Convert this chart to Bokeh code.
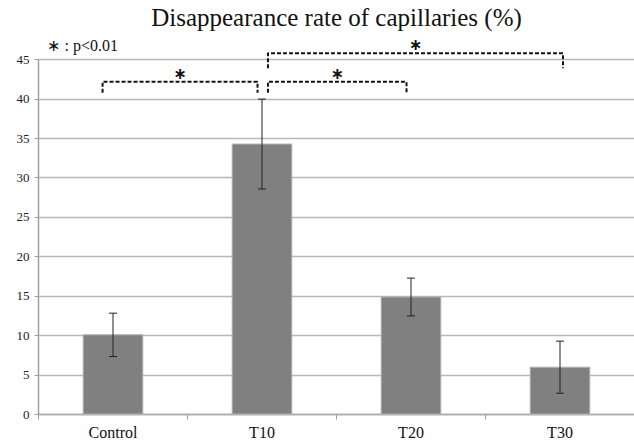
from bokeh.plotting import figure
from bokeh.models import (ColumnDataSource, Range1d, FixedTicker, Whisker, TeeHead, Label)
from bokeh.core.properties import value
from bokeh.embed import file_html
from bokeh.resources import INLINE

# ---- data ----
categories = ["Control", "T10", "T20", "T30"]
means = [10.1, 34.3, 14.9, 6.0]
errors = [2.75, 5.7, 2.4, 3.3]
y_ticks = [0, 5, 10, 15, 20, 25, 30, 35, 40, 45]

# significance brackets: pairs of category indices, bar top level, foot level
bracket_pairs = [(0, 1), (1, 2), (1, 3)]
bracket_tops = [42.2, 42.2, 45.8]
bracket_feet = [40.8, 40.8, 43.9]
bracket_label = "∗"
legend_text = "∗ : p<0.01"
title_text = "Disappearance rate of capillaries (%)"

# ---- styles ----
SERIF = "Liberation Serif"
GRID = "#b8b8b8"
# horizontal offsets of bracket ends relative to category centres (style only)
bracket_offsets = [(-0.07, -0.03), (0.04, -0.03), (0.04, 0.02)]

xc = [i + 0.5 for i in range(len(categories))]
src = ColumnDataSource(dict(
    x=xc, cat=categories, mean=means,
    upper=[m + e for m, e in zip(means, errors)],
    lower=[m - e for m, e in zip(means, errors)],
))

p = figure(width=634, height=443, output_backend="svg", toolbar_location=None,
           x_range=Range1d(0, len(categories)), y_range=Range1d(0, 48.7),
           min_border_left=38, min_border_right=0, min_border_top=30,
           min_border_bottom=10, title=title_text)
p.title.text_font = SERIF
p.title.text_font_size = "25px"
p.title.text_font_style = "normal"
p.title.align = "center"
p.title.text_color = "#111111"
p.title.standoff = 0
p.outline_line_color = None
p.background_fill_color = "white"

# bars
p.vbar(x="x", top="mean", width=0.4, bottom=0, source=src,
       fill_color="#808080", line_color="#b0b0b0", line_width=1)

# error bars
w = Whisker(base="x", upper="upper", lower="lower", source=src, level="overlay",
            line_color="#222222", line_width=1,
            upper_head=TeeHead(size=8, line_color="#222222", line_width=1),
            lower_head=TeeHead(size=8, line_color="#222222", line_width=1))
p.add_layout(w)

# significance brackets
bx, by, sx, sy = [], [], [], []
for (a, b), top, foot, (oa, ob) in zip(bracket_pairs, bracket_tops, bracket_feet, bracket_offsets):
    x0 = xc[a] + oa
    x1 = xc[b] + ob
    bx.append([x0, x0, x1, x1])
    by.append([foot, top, top, foot])
    sx.append((x0 + x1) / 2)
    sy.append(top + 1.1)
p.multi_line(xs=bx, ys=by, line_color="#111111", line_width=2, line_dash="4 2")
p.text(x=sx, y=sy, text=[bracket_label] * len(sx), text_font=value("DejaVu Sans"),
       text_font_size="16px", text_font_style="bold", text_align="center",
       text_baseline="middle", text_color="#111111")

# p-value legend
p.add_layout(Label(x=0.06, y=46.8, text=legend_text, text_font=SERIF,
                   text_font_size="16px", text_baseline="middle",
                   text_color="#111111"))

# x axis: labels at centres, ticks at category boundaries
p.xaxis.ticker = FixedTicker(ticks=xc, minor_ticks=list(range(len(categories) + 1)))
p.xaxis.major_label_overrides = {x: c for x, c in zip(xc, categories)}
p.xaxis.major_tick_line_color = None
p.xaxis.major_tick_out = 0
p.xaxis.minor_tick_line_color = "#a0a0a0"
p.xaxis.minor_tick_out = 5
p.xaxis.minor_tick_in = 0
p.xaxis.axis_line_color = "#b0b0b0"
p.xaxis.axis_line_width = 2
p.xaxis.major_label_text_font = SERIF
p.xaxis.major_label_text_font_size = "16px"
p.xaxis.major_label_text_color = "#111111"
p.xaxis.major_label_standoff = 4
p.xgrid.grid_line_color = None

# y axis
p.yaxis.ticker = FixedTicker(ticks=y_ticks)
p.yaxis.bounds = (0, 45)
p.yaxis.axis_line_color = "#a0a0a0"
p.yaxis.axis_line_width = 1.5
p.yaxis.major_tick_line_color = "#a0a0a0"
p.yaxis.major_tick_out = 4
p.yaxis.major_tick_in = 0
p.yaxis.minor_tick_line_color = None
p.yaxis.major_label_text_font = SERIF
p.yaxis.major_label_text_font_size = "13px"
p.yaxis.major_label_text_color = "#222222"
p.yaxis.major_label_standoff = 5
p.ygrid.ticker = FixedTicker(ticks=y_ticks)
p.ygrid.grid_line_color = GRID
p.ygrid.grid_line_width = 1.5

open("out.html", "w").write(file_html(p, INLINE))
